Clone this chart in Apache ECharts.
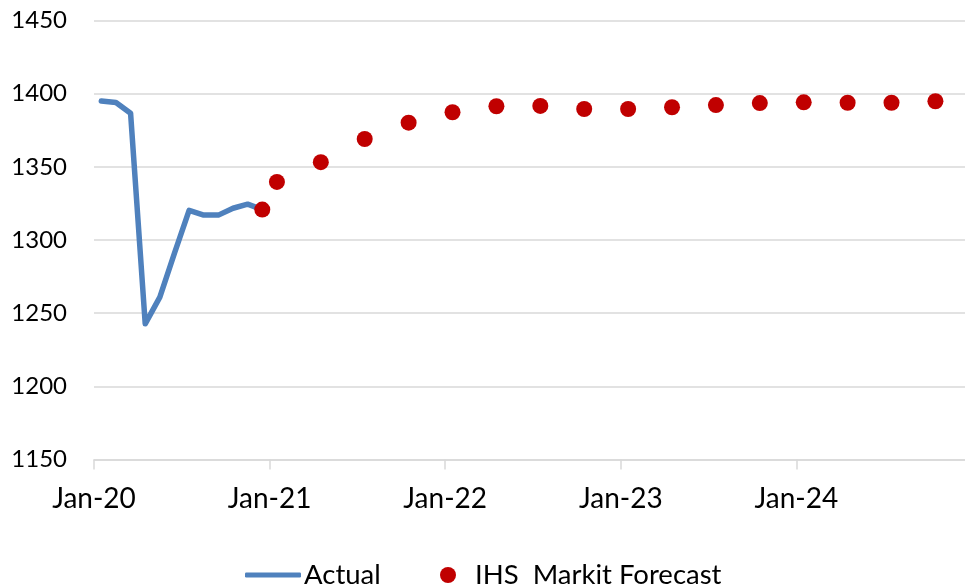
<!DOCTYPE html>
<html>
<head>
<meta charset="utf-8">
<script src="https://cdn.jsdelivr.net/npm/echarts@6/dist/echarts.min.js"></script>
<style>
  html, body { margin: 0; padding: 0; background: #fff; }
  #chart { width: 965px; height: 584px; }
</style>
</head>
<body>
<div id="chart"></div>
<script>
// months counted from Jan-20 = 0
const actualMonths = [0, 1, 2, 3, 4, 5, 6, 7, 8, 9, 10, 11];
const actualValues = [1395, 1394, 1386.6, 1242.7, 1261, 1291, 1320.3, 1317, 1317, 1321.7, 1324.5, 1320.8];

const forecastMonths = [11, 12, 15, 18, 21, 24, 27, 30, 33, 36, 39, 42, 45, 48, 51, 54, 57];
const forecastValues = [1320.8, 1339.7, 1353.2, 1369, 1380.2, 1387.3, 1391.4, 1391.6, 1389.5, 1389.5, 1390.7, 1392.2, 1393.6, 1394.1, 1393.8, 1393.8, 1394.8];

const yearLabels = ["Jan-20", "Jan-21", "Jan-22", "Jan-23", "Jan-24"];

const FONT = "Lato";
const GRID = "#d9d9d9";

// points sit in the middle of their month
const mid = (m, v) => [m + 0.5, v];

const chart = echarts.init(document.getElementById("chart"));

chart.setOption({
  animation: false,
  grid: { left: 94, right: -7, top: 20.5, bottom: 124.5, containLabel: false, outerBoundsMode: "none" },
  xAxis: {
    type: "value",
    min: 0,
    max: 60,
    interval: 12,
    axisLine: { show: true, lineStyle: { color: GRID, width: 1.5 } },
    axisTick: { show: true, length: 10, lineStyle: { color: GRID, width: 1.5 } },
    axisLabel: {
      color: "#000",
      fontFamily: FONT,
      fontSize: 28,
      margin: 25,
      formatter: (v) => yearLabels[v / 12] || ""
    },
    splitLine: { show: false }
  },
  yAxis: {
    type: "value",
    min: 1150,
    max: 1450,
    interval: 50,
    axisLine: { show: false },
    axisTick: { show: false },
    axisLabel: { color: "#000", fontFamily: FONT, fontSize: 24, margin: 27, formatter: (v) => String(v) },
    splitLine: { lineStyle: { color: GRID, width: 1.5 } }
  },
  legend: [
    {
      data: ["Actual"],
      left: 240,
      top: 556,
      icon: "roundRect",
      itemWidth: 56,
      itemHeight: 5,
      itemGap: 0,
      textStyle: { fontFamily: FONT, fontSize: 27.5, color: "#000", padding: [0, 0, 0, -2] }
    },
    {
      data: ["IHS  Markit Forecast"],
      left: 435,
      top: 556,
      icon: "circle",
      itemWidth: 16,
      itemHeight: 16,
      itemStyle: { opacity: 1 },
      textStyle: { fontFamily: FONT, fontSize: 27.5, color: "#000", padding: [0, 0, 0, 14] }
    }
  ],
  series: [
    {
      name: "Actual",
      type: "line",
      data: actualMonths.map((m, i) => mid(m, actualValues[i])),
      showSymbol: false,
      symbol: "none",
      lineStyle: { color: "#4F81BD", width: 5.5, cap: "round", join: "round" },
      itemStyle: { color: "#4F81BD" },
      z: 2
    },
    {
      name: "IHS  Markit Forecast",
      type: "scatter",
      data: forecastMonths.map((m, i) => mid(m, forecastValues[i])),
      symbol: "circle",
      symbolSize: 16,
      itemStyle: { color: "#C00000", opacity: 1 },
      z: 3
    }
  ]
});
</script>
</body>
</html>
